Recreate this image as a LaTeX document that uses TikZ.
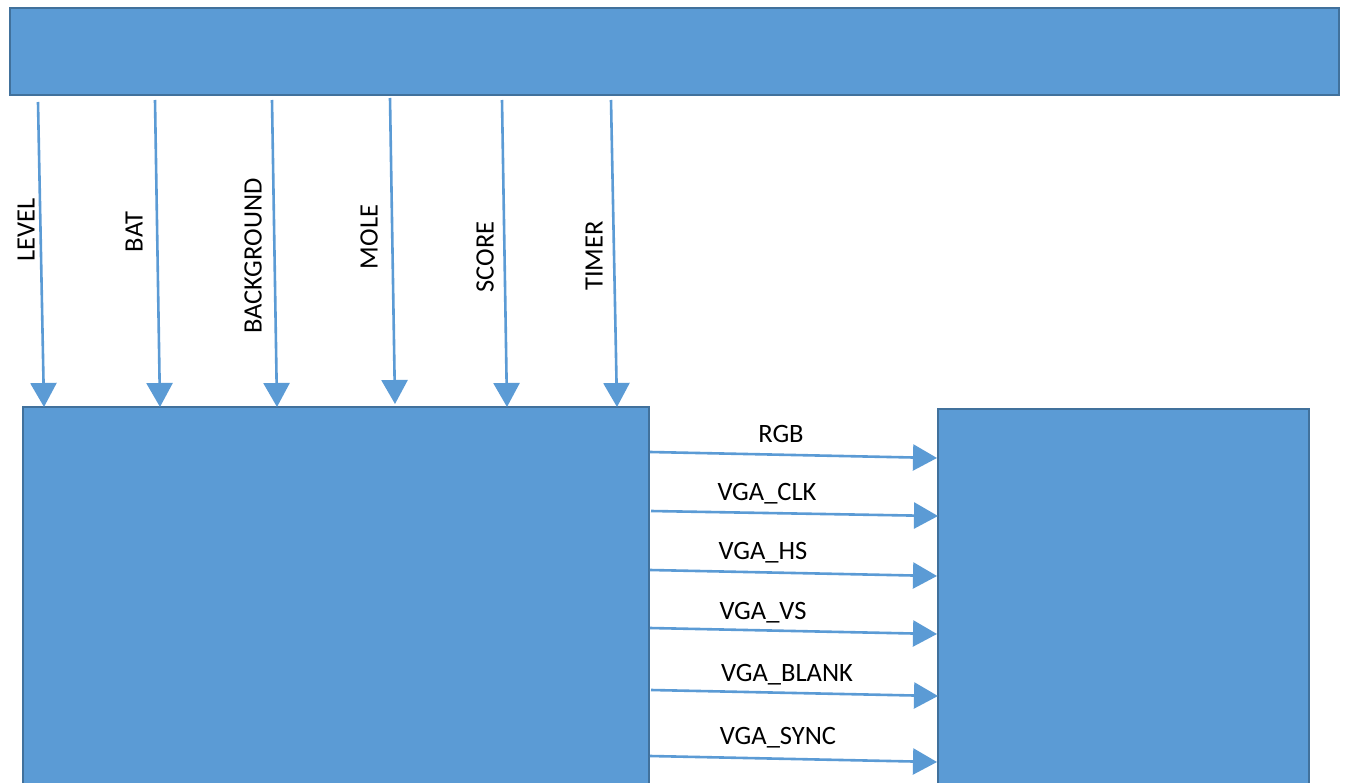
\documentclass[tikz,border=0pt]{standalone}
\usepackage{fontspec}
\setmainfont{Carlito}
\usetikzlibrary{arrows.meta}
\definecolor{boxfill}{HTML}{5B9BD5}
\definecolor{boxline}{HTML}{41719C}
\tikzset{
  block/.style={draw=boxline, fill=boxfill, line width=2pt},
  sig/.style={draw=boxfill, line width=2.6pt, -{Triangle[length=24pt,width=26pt]}},
  lbl/.style={font=\fontsize{26.5}{30}\selectfont, inner sep=0pt},
  vlbl/.style={lbl, rotate=90}
}
\begin{document}
\begin{tikzpicture}[x=1pt,y=-1pt]
\useasboundingbox (0,0) rectangle (1348,783);
\clip (0,0) rectangle (1348,783);
\fill[white] (0,0) rectangle (1348,783);
% blocks
\path[block] (10,8) rectangle (1339,95);
\path[block] (23,407) rectangle (649,800);
\path[block] (938,409) rectangle (1309,800);
% vertical signal coordinates
\coordinate (s1) at (38,102);  \coordinate (t1) at (44,407);
\coordinate (s2) at (155,100); \coordinate (t2) at (160,407);
\coordinate (s3) at (272,100); \coordinate (t3) at (277,407);
\coordinate (s4) at (390,98);  \coordinate (t4) at (395,404);
\coordinate (s5) at (502,100); \coordinate (t5) at (507,407);
\coordinate (s6) at (611,100); \coordinate (t6) at (617,407);
\draw[sig] (s1) -- (t1);
\draw[sig] (s2) -- (t2);
\draw[sig] (s3) -- (t3);
\draw[sig] (s4) -- (t4);
\draw[sig] (s5) -- (t5);
\draw[sig] (s6) -- (t6);
\node[vlbl] (l1) at (26,230) {LEVEL};
\node[vlbl] (l2) at (134,232) {BAT};
\node[vlbl] (l3) at (253,256) {BACKGROUND};
\node[vlbl] (l4) at (369,237) {MOLE};
\node[vlbl] (l5) at (485,257) {SCORE};
\node[vlbl] (l6) at (594,256) {TIMER};
% horizontal signal coordinates
\coordinate (h1) at (650,452); \coordinate (e1) at (937,458);
\coordinate (h2) at (651,511); \coordinate (e2) at (938,516);
\coordinate (h3) at (650,570); \coordinate (e3) at (937,576);
\coordinate (h4) at (650,628); \coordinate (e4) at (937,634);
\coordinate (h5) at (651,690); \coordinate (e5) at (938,696);
\coordinate (h6) at (650,756); \coordinate (e6) at (937,762);
\draw[sig] (h1) -- (e1);
\draw[sig] (h2) -- (e2);
\draw[sig] (h3) -- (e3);
\draw[sig] (h4) -- (e4);
\draw[sig] (h5) -- (e5);
\draw[sig] (h6) -- (e6);
\node[lbl] (r1) at (781,434) {RGB};
\node[lbl] (r2) at (767,494) {VGA\_CLK};
\node[lbl] (r3) at (763,553) {VGA\_HS};
\node[lbl] (r4) at (763,613) {VGA\_VS};
\node[lbl] (r5) at (787,675) {VGA\_BLANK};
\node[lbl] (r6) at (778,738) {VGA\_SYNC};
\end{tikzpicture}
\end{document}
